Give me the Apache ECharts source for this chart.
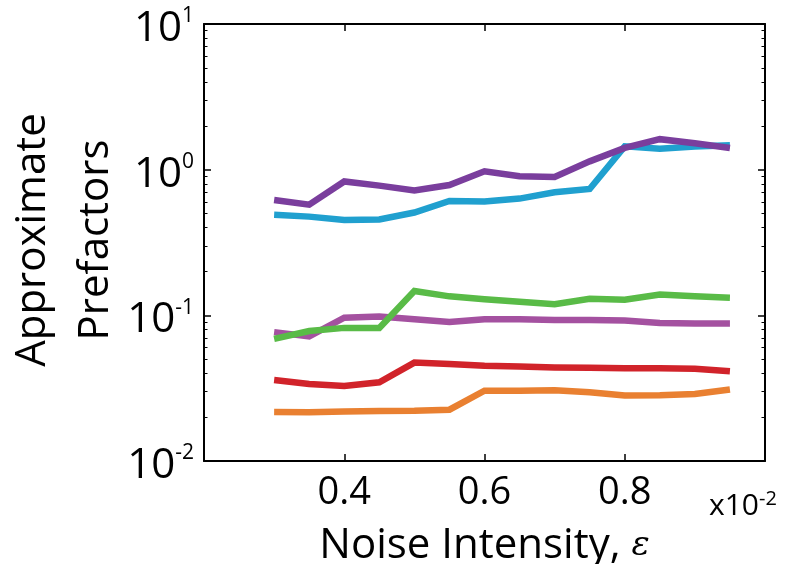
<!DOCTYPE html>
<html>
<head>
<meta charset="utf-8">
<script src="https://cdn.jsdelivr.net/npm/echarts@6/dist/echarts.min.js"></script>
<style>
  html, body { margin: 0; padding: 0; background: #fff; }
  #chart { width: 794px; height: 564px; }
</style>
</head>
<body>
<div id="chart"></div>
<script>
// Noise intensity (in units of 1e-2)
const noise = [0.30, 0.35, 0.40, 0.45, 0.50, 0.55, 0.60, 0.65, 0.70, 0.75, 0.80, 0.85, 0.90, 0.95];

// Approximate prefactor estimates, one array per curve
const prefBlue    = [0.490, 0.476, 0.452, 0.455, 0.508, 0.610, 0.605, 0.633, 0.700, 0.737, 1.445, 1.390, 1.440, 1.470];
const prefPurple  = [0.620, 0.575, 0.830, 0.777, 0.720, 0.785, 0.975, 0.900, 0.890, 1.140, 1.410, 1.620, 1.520, 1.410];
const prefMagenta = [0.0767, 0.0716, 0.0964, 0.0980, 0.0940, 0.0900, 0.0940, 0.0940, 0.0930, 0.0930, 0.0920, 0.0886, 0.0880, 0.0880];
const prefGreen   = [0.069, 0.078, 0.082, 0.082, 0.147, 0.135, 0.129, 0.124, 0.119, 0.130, 0.128, 0.139, 0.135, 0.132];
const prefRed     = [0.0360, 0.0338, 0.0327, 0.0347, 0.0474, 0.0464, 0.0450, 0.0445, 0.0438, 0.0436, 0.0434, 0.0434, 0.0430, 0.0413];
const prefOrange  = [0.0217, 0.0216, 0.0219, 0.0220, 0.0221, 0.0225, 0.0304, 0.0304, 0.0306, 0.0296, 0.0282, 0.0283, 0.0288, 0.0310];

// Axis ticks
const xLabelTicks = [0.4, 0.6, 0.8];
const yMinorTicks = [];
[0.01, 0.1, 1].forEach(function (d) {
  for (let k = 2; k <= 9; k++) yMinorTicks.push(+(d * k).toPrecision(3));
});

const FONT = '"Open Sans", sans-serif';
const pairs = arr => noise.map((x, i) => [x, arr[i]]);

const curves = [
  { data: prefBlue,    color: '#20a0cf' },
  { data: prefPurple,  color: '#7a3e9d' },
  { data: prefMagenta, color: '#a451a0' },
  { data: prefGreen,   color: '#59bb47' },
  { data: prefRed,     color: '#d1232a' },
  { data: prefOrange,  color: '#e98031' }
];

const frameLine = { show: true, onZero: false, lineStyle: { color: '#000', width: 2 } };

function logAxis(position, opts) {
  return Object.assign({
    type: 'log', logBase: 10, min: 0.01, max: 10, position: position,
    splitLine: { show: false },
    axisLine: { show: false },
    axisLabel: { show: false },
    axisTick: { show: false }
  }, opts);
}

const majorTick = { show: true, inside: true, length: 7, lineStyle: { color: '#000', width: 1.5 } };
const minorTickStyle = { show: true, inside: true, length: 3.5, customValues: yMinorTicks, lineStyle: { color: '#000', width: 1 } };

const chart = echarts.init(document.getElementById('chart'));
chart.setOption({
  animation: false,
  backgroundColor: '#fff',
  grid: { left: 204, right: 29, top: 24, bottom: 103, containLabel: false, outerBoundsMode: 'none' },
  xAxis: [
    {
      type: 'value', min: 0.2, max: 1.0, interval: 0.2, position: 'bottom',
      axisLine: frameLine,
      axisTick: majorTick,
      splitLine: { show: false },
      axisLabel: {
        margin: 13, color: '#000', fontFamily: FONT, fontSize: 38,
        formatter: v => xLabelTicks.some(t => Math.abs(t - v) < 1e-9) ? v.toFixed(1) : ''
      },
      name: 'Noise Intensity, {e|ε}',
      nameLocation: 'middle', nameGap: 64,
      nameTextStyle: {
        color: '#000', fontFamily: FONT, fontSize: 42,
        rich: { e: { fontFamily: '"DejaVu Serif", serif', fontStyle: 'italic', fontSize: 34, color: '#000' } }
      }
    },
    {
      type: 'value', min: 0.2, max: 1.0, interval: 0.2, position: 'top',
      axisLine: frameLine,
      axisTick: majorTick,
      axisLabel: { show: false },
      splitLine: { show: false }
    }
  ],
  yAxis: [
    logAxis('left', {
      axisLine: frameLine,
      axisTick: majorTick,
      axisLabel: {
        show: true, margin: 10, color: '#000', fontFamily: FONT,
        padding: [10, 0, 0, 0],
        formatter: v => '{b|10}{s|' + Math.round(Math.log10(v)) + '}',
        rich: {
          b: { fontFamily: FONT, fontSize: 42, lineHeight: 46, color: '#000' },
          s: { fontFamily: FONT, fontSize: 21, lineHeight: 24, verticalAlign: 'top', color: '#000' }
        }
      }
    }),
    logAxis('left', { axisTick: minorTickStyle }),
    logAxis('right', { axisLine: frameLine, axisTick: majorTick }),
    logAxis('right', { axisTick: minorTickStyle })
  ],
  graphic: [
    {
      type: 'text', x: 33, y: 240, rotation: Math.PI / 2,
      style: { text: 'Approximate', font: '42px ' + FONT, fill: '#000', align: 'center', verticalAlign: 'middle' }
    },
    {
      type: 'text', x: 96, y: 240, rotation: Math.PI / 2,
      style: { text: 'Prefactors', font: '42px ' + FONT, fill: '#000', align: 'center', verticalAlign: 'middle' }
    },
    {
      type: 'text', left: 709, top: 489,
      style: {
        text: '{b|x10}{s|-2}',
        rich: {
          b: { fontFamily: FONT, fontSize: 30, lineHeight: 34, fill: '#000' },
          s: { fontFamily: FONT, fontSize: 20, lineHeight: 22, verticalAlign: 'top', fill: '#000' }
        }
      }
    }
  ],
  series: curves.map(c => ({
    type: 'line',
    xAxisIndex: 0, yAxisIndex: 0,
    data: pairs(c.data),
    showSymbol: false, symbol: 'none',
    lineStyle: { color: c.color, width: 6.5, cap: 'butt', join: 'miter' },
    itemStyle: { color: c.color },
    emphasis: { disabled: true }
  }))
});
</script>
</body>
</html>
